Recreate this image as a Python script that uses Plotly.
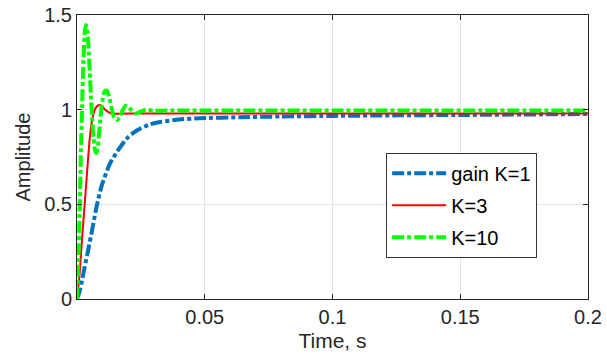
import plotly.graph_objects as go

# Step responses of the closed loop for three controller gains
t_k1 = [0, 0.001, 0.002, 0.003, 0.0044, 0.006, 0.0077, 0.0097, 0.0129, 0.0168,
        0.020, 0.0234, 0.028, 0.0325, 0.040, 0.048, 0.064, 0.08, 0.1, 0.126, 0.15, 0.2]
y_k1 = [0, 0.04, 0.10, 0.17, 0.26, 0.37, 0.49, 0.60, 0.715, 0.80,
        0.855, 0.89, 0.92, 0.935, 0.948, 0.955, 0.96, 0.964, 0.967, 0.97, 0.972, 0.977]

t_k3 = [0, 0.001, 0.002, 0.003, 0.004, 0.005, 0.006, 0.007, 0.008, 0.009,
        0.010, 0.011, 0.012, 0.013, 0.015, 0.02, 0.05, 0.1, 0.15, 0.2]
y_k3 = [0, 0.13, 0.32, 0.50, 0.68, 0.85, 0.95, 1.0, 1.02, 1.025,
        1.015, 1.0, 0.99, 0.982, 0.978, 0.98, 0.98, 0.98, 0.98, 0.98]

t_k10 = [0, 0.0005, 0.001, 0.0015, 0.002, 0.0025, 0.003, 0.0035, 0.004, 0.0045,
         0.005, 0.0055, 0.006, 0.0065, 0.007, 0.0075, 0.008, 0.0085, 0.009, 0.0095,
         0.010, 0.0105, 0.011, 0.0117, 0.0125, 0.0135, 0.0145, 0.0157, 0.017, 0.018,
         0.019, 0.020, 0.0215, 0.023, 0.025, 0.027, 0.030, 0.035, 0.05, 0.1, 0.15, 0.2]
y_k10 = [0, 0.2, 0.45, 0.75, 1.02, 1.25, 1.40, 1.447, 1.42, 1.33,
         1.20, 1.06, 0.94, 0.85, 0.79, 0.77, 0.79, 0.85, 0.93, 1.0,
         1.05, 1.085, 1.10, 1.10, 1.07, 1.01, 0.96, 0.945, 0.97, 1.0,
         1.02, 1.015, 0.995, 0.98, 0.99, 1.0, 0.995, 0.995, 0.995, 0.995, 0.995, 0.995]

names = ["gain K=1", "K=3", "K=10"]
x_ticks = [0.05, 0.1, 0.15, 0.2]
x_labels = ["0.05", "0.1", "0.15", "0.2"]
y_ticks = [0, 0.5, 1, 1.5]
y_labels = ["0", "0.5", "1", "1.5"]

FONT = "Liberation Sans, Arial, Helvetica, sans-serif"
AX = "#262626"
DASHDOT = "12px,3px,4px,3px"

fig = go.Figure()
fig.add_trace(go.Scatter(x=t_k1, y=y_k1, mode="lines", name=names[0], legendgroup="a",
                         line=dict(color="#0072BD", width=4, dash=DASHDOT, shape="spline", smoothing=0.6)))
fig.add_trace(go.Scatter(x=t_k3, y=y_k3, mode="lines", name=names[1], legendgroup="b",
                         line=dict(color="#FF0000", width=2, shape="spline", smoothing=0.6)))
fig.add_trace(go.Scatter(x=t_k10, y=y_k10, mode="lines", name=names[2], legendgroup="c",
                         line=dict(color="#00FF00", width=4, dash=DASHDOT, shape="spline", smoothing=0.6)))

axis_common = dict(showline=True, linecolor=AX, linewidth=1, mirror="ticks",
                   ticks="inside", ticklen=5, tickcolor=AX, automargin=False,
                   showgrid=True, gridcolor="#e3e3e3", gridwidth=1, zeroline=False,
                   tickfont=dict(family=FONT, size=20, color=AX))

fig.update_xaxes(range=[0, 0.2], tickvals=x_ticks, ticktext=x_labels,
                 title=dict(text="Time, s", font=dict(family=FONT, size=21, color=AX), standoff=6),
                 **axis_common)
fig.update_yaxes(range=[0, 1.5], tickvals=y_ticks, ticktext=y_labels,
                 title=dict(text="Amplitude", font=dict(family=FONT, size=20, color=AX), standoff=8),
                 **axis_common)

fig.update_layout(
    width=607, height=355,
    margin=dict(l=77, r=19, t=15, b=56),
    plot_bgcolor="white", paper_bgcolor="white",
    font=dict(family=FONT, color=AX),
    legend=dict(x=0.605, y=0.515, xanchor="left", yanchor="top",
                bgcolor="white", bordercolor="#333333", borderwidth=1,
                font=dict(family=FONT, size=20, color="#000000"),
                itemwidth=54, tracegroupgap=3),
)

fig.write_html("out.html")
